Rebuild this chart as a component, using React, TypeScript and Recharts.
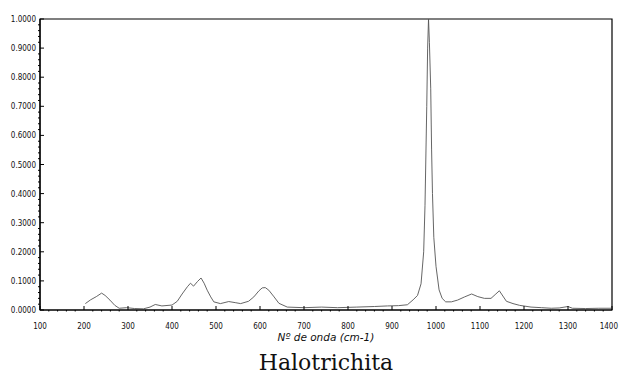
import React from 'react';
import { LineChart, Line, XAxis, YAxis, ReferenceArea } from 'recharts';

const waveNumbers = [
  203, 215, 228, 240, 248, 259, 270, 280, 297, 315, 335, 350, 362, 377, 400, 412, 423, 435, 442, 449,
  458, 466, 473, 480, 488, 495, 510, 529, 545, 556, 574, 586, 597, 605, 612, 620, 632, 643, 662, 700,
  740, 776, 820, 860, 890, 915, 935, 948, 958, 966, 972, 975, 979, 981, 983, 985, 988, 990, 992, 995,
  1000, 1007, 1014, 1022, 1035, 1049, 1065, 1081, 1095, 1110, 1125, 1136, 1144, 1152, 1160, 1175, 1190, 1216, 1240, 1262,
  1280, 1300, 1310, 1340, 1370, 1398,
];
const intensity = [
  0.022, 0.035, 0.046, 0.058, 0.05, 0.034, 0.016, 0.006, 0.008, 0.005, 0.004, 0.01, 0.019, 0.014, 0.017, 0.03, 0.055, 0.08, 0.092, 0.082,
  0.098, 0.11, 0.092, 0.068, 0.045, 0.028, 0.022, 0.029, 0.025, 0.022, 0.03, 0.045, 0.065, 0.076, 0.077, 0.068, 0.045, 0.023, 0.01, 0.008,
  0.01, 0.008, 0.01, 0.012, 0.014, 0.015, 0.018, 0.035, 0.05, 0.09, 0.2, 0.36, 0.7, 0.9, 1.0, 0.92, 0.76, 0.55, 0.4, 0.25,
  0.15, 0.069, 0.04, 0.028, 0.028, 0.034, 0.045, 0.055, 0.046, 0.04, 0.04, 0.055, 0.066, 0.048, 0.03, 0.022, 0.016, 0.01, 0.008, 0.006,
  0.007, 0.012, 0.006, 0.005, 0.006, 0.006,
];

const xTickLabels = [100, 200, 300, 400, 500, 600, 700, 800, 900, 1000, 1100, 1200, 1300, 1400];
const yTickLabels = ['0.0000', '0.1000', '0.2000', '0.3000', '0.4000', '0.5000', '0.6000', '0.7000', '0.8000', '0.9000', '1.0000'];
const xAxisTitle = 'Nº de onda (cm-1)';
const chartTitle = 'Halotrichita';

const data = waveNumbers.map((w, i) => ({ w, v: intensity[i] }));

const xMinor: number[] = [];
for (let v = 100; v <= 1400; v += 20) xMinor.push(v);
const yMinor: number[] = [];
for (let i = 0; i <= 50; i++) yMinor.push(Math.round(i * 2) / 100);

const tickFont = "'Liberation Sans Narrow', 'DejaVu Sans Condensed', sans-serif";

const XTick = (props: any) => {
  const { x, y, payload } = props;
  const v = payload.value;
  const major = xTickLabels.includes(v);
  const last = v === xTickLabels[xTickLabels.length - 1];
  return (
    <g>
      {major ? (
        <line x1={x} x2={x} y1={y} y2={y - 4} stroke="#000" strokeWidth={1} />
      ) : (
        <line x1={x} x2={x} y1={y} y2={y + 1.5} stroke="#000" strokeWidth={1} />
      )}
      {major && (
        <text
          x={last ? x + 6 : x}
          y={y + 19}
          textAnchor={last ? 'end' : 'middle'}
          fontSize={8}
          fontFamily={tickFont}
          fill="#111"
        >
          {String(v)}
        </text>
      )}
    </g>
  );
};

const YTick = (props: any) => {
  const { x, y, payload } = props;
  const v = payload.value;
  const idx = Math.round(v * 10);
  const major = Math.abs(v * 10 - idx) < 1e-6;
  return (
    <g>
      {major ? (
        <line x1={x} x2={x + 4} y1={y} y2={y} stroke="#000" strokeWidth={1} />
      ) : (
        <line x1={x} x2={x - 2} y1={y} y2={y} stroke="#000" strokeWidth={1} />
      )}
      {major && (
        <text x={x - 4} y={y + 3} textAnchor="end" fontSize={8} fontFamily={tickFont} fill="#111">
          {yTickLabels[idx]}
        </text>
      )}
    </g>
  );
};

export default function App() {
  return (
    <div style={{ position: 'absolute', left: 0, top: 0, width: 619, height: 387, background: '#fff' }}>
      <LineChart width={619} height={340} data={data} margin={{ top: 19, right: 7, bottom: 0, left: 0 }}>
        <XAxis
          dataKey="w"
          type="number"
          domain={[100, 1400]}
          ticks={xMinor}
          interval={0}
          tickSize={0}
          tickMargin={0}
          tickLine={false}
          tick={<XTick />}
          height={30}
          axisLine={{ stroke: '#000', strokeWidth: 1.2 }}
          allowDataOverflow
        />
        <YAxis
          type="number"
          domain={[0, 1]}
          ticks={yMinor}
          interval={0}
          tickSize={0}
          tickMargin={0}
          tickLine={false}
          tick={<YTick />}
          width={40}
          axisLine={{ stroke: '#000', strokeWidth: 1.2 }}
          allowDataOverflow
        />
        <ReferenceArea x1={100} x2={1400} y1={0} y2={1} fill="none" stroke="#000" strokeWidth={1.2} ifOverflow="visible" />
        <Line
          type="linear"
          dataKey="v"
          stroke="#555"
          strokeWidth={0.9}
          dot={false}
          activeDot={false}
          isAnimationActive={false}
        />
      </LineChart>
      <div
        style={{
          position: 'absolute',
          left: 226,
          width: 200,
          top: 330,
          textAlign: 'center',
          fontFamily: "'DejaVu Sans', sans-serif",
          fontStyle: 'italic',
          fontSize: 10.5,
          lineHeight: '14px',
          color: '#111',
        }}
      >
        {xAxisTitle}
      </div>
      <div
        style={{
          position: 'absolute',
          left: 176,
          width: 300,
          top: 349,
          textAlign: 'center',
          fontFamily: "'DejaVu Serif', serif",
          fontSize: 22,
          lineHeight: '28px',
          color: '#111',
        }}
      >
        {chartTitle}
      </div>
    </div>
  );
}
